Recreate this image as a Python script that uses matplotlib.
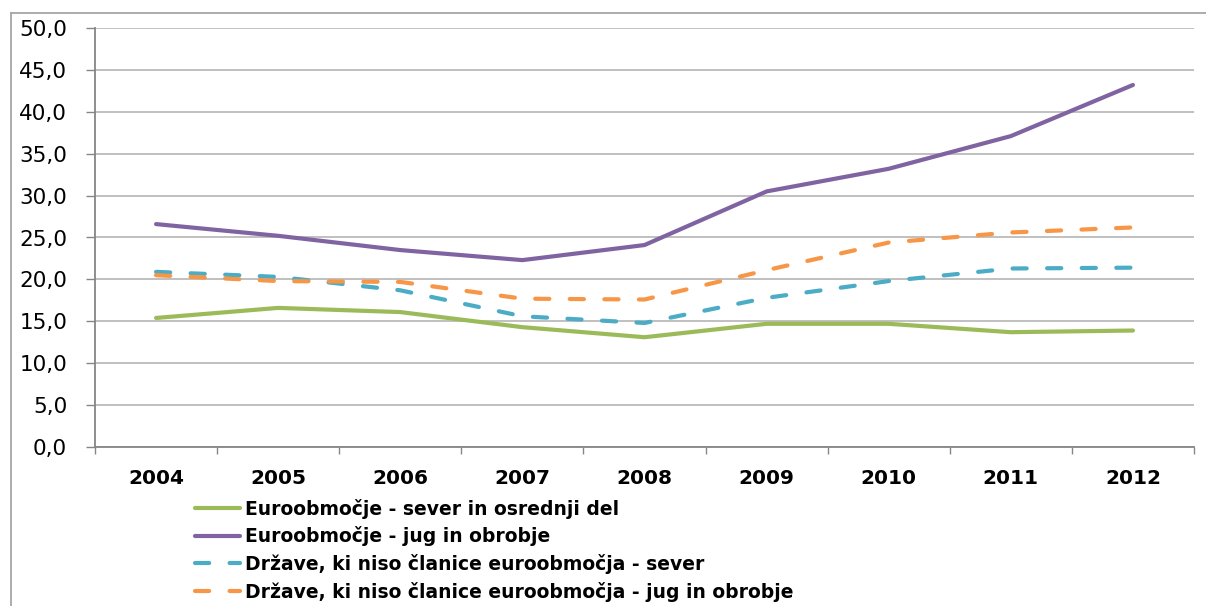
import matplotlib
matplotlib.use("Agg")
import matplotlib.pyplot as plt
from matplotlib.lines import Line2D
from matplotlib.ticker import FixedLocator, FuncFormatter

years = ["2004", "2005", "2006", "2007", "2008", "2009", "2010", "2011", "2012"]
euro_north = [15.4, 16.6, 16.1, 14.3, 13.1, 14.7, 14.7, 13.7, 13.9]
euro_south = [26.6, 25.2, 23.5, 22.3, 24.1, 30.5, 33.2, 37.1, 43.2]
non_euro_north = [20.9, 20.3, 18.7, 15.6, 14.8, 17.8, 19.8, 21.3, 21.4]
non_euro_south = [20.5, 19.8, 19.7, 17.7, 17.6, 21.1, 24.4, 25.6, 26.2]
labels = [
    "Euroobmočje - sever in osrednji del",
    "Euroobmočje - jug in obrobje",
    "Države, ki niso članice euroobmočja - sever",
    "Države, ki niso članice euroobmočja - jug in obrobje",
]
yticks = [0, 5, 10, 15, 20, 25, 30, 35, 40, 45, 50]

W, H = 1206, 606
fig = plt.figure(figsize=(W / 100, H / 100), dpi=100)
ax = fig.add_axes([95 / W, 1 - 447 / H, (1194 - 95) / W, (447 - 28) / H])

x = list(range(len(years)))
lw = 3.0
ax.plot(x, euro_north, color="#9BBB59", lw=lw, solid_capstyle="round", label=labels[0], zorder=3)
ax.plot(x, euro_south, color="#8064A2", lw=lw, solid_capstyle="round", label=labels[1], zorder=3)
ax.plot(x, non_euro_north, color="#4BACC6", lw=lw, dashes=(3.4, 4.9),
        dash_capstyle="round", label=labels[2], zorder=3)
ax.plot(x, non_euro_south, color="#F79646", lw=lw, dashes=(3.4, 4.9),
        dash_capstyle="round", label=labels[3], zorder=3)

ax.set_xlim(-0.5, len(years) - 0.5)
ax.set_ylim(0, 50)
ax.set_yticks(yticks)
ax.yaxis.set_major_formatter(FuncFormatter(lambda v, p: f"{v:.1f}".replace(".", ",")))
ax.set_xticks(x)
ax.set_xticklabels(years, fontsize=14.5, fontweight="bold")
ax.xaxis.set_minor_locator(FixedLocator([i - 0.5 for i in range(len(years) + 1)]))
ax.tick_params(axis="x", which="major", length=0, pad=16)
ax.tick_params(axis="x", which="minor", length=5, width=1, color="#868686", direction="out")
ax.tick_params(axis="y", length=6.5, width=1, color="#868686", direction="out", pad=13.5,
               labelsize=15.5)

ax.grid(axis="y", color="#C0C0C0", lw=1.4, zorder=0)
ax.set_axisbelow(True)
for s in ["top", "right"]:
    ax.spines[s].set_visible(False)
for s in ["left", "bottom"]:
    ax.spines[s].set_color("#868686")
    ax.spines[s].set_linewidth(1.3)

fig.legend(loc="upper left", bbox_to_anchor=(195 / W, 1 - 499 / H), frameon=False,
           prop={"size": 13.5, "weight": "bold"}, handlelength=2.4, handletextpad=0.27,
           labelspacing=0.4, borderpad=0, borderaxespad=0)

# outer chart frame
fig.add_artist(Line2D([11 / W, 1], [1 - 13 / H, 1 - 13 / H], transform=fig.transFigure,
                      color="#A6A6A6", lw=1.3))
fig.add_artist(Line2D([11 / W, 11 / W], [0, 1 - 13 / H], transform=fig.transFigure,
                      color="#A6A6A6", lw=1.3))

fig.savefig("out.png", dpi=100)
